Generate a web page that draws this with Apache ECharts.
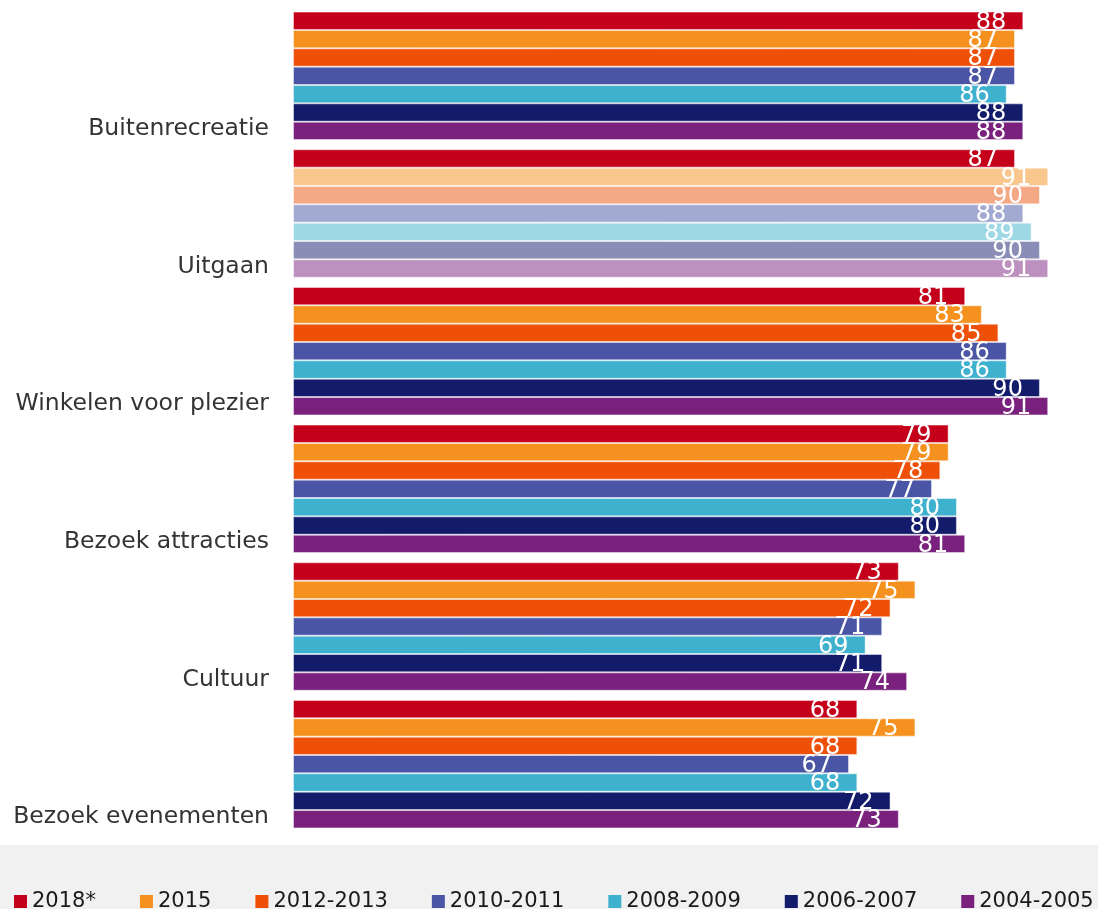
<!DOCTYPE html>
<html>
<head>
<meta charset="utf-8">
<script src="https://cdn.jsdelivr.net/npm/echarts@6/dist/echarts.min.js"></script>
<style>html,body{margin:0;padding:0;background:#fff}#c{width:1098px;height:909px}</style>
</head>
<body>
<div id="c"></div>
<script>
const categories = ['Buitenrecreatie', 'Uitgaan', 'Winkelen voor plezier', 'Bezoek attracties', 'Cultuur', 'Bezoek evenementen'];
const seriesNames = ['2018*', '2015', '2012-2013', '2010-2011', '2008-2009', '2006-2007', '2004-2005'];
const v2018 = [88, 87, 81, 79, 73, 68];
const v2015 = [87, 91, 83, 79, 75, 75];
const v2012 = [87, 90, 85, 78, 72, 68];
const v2010 = [87, 88, 86, 77, 71, 67];
const v2008 = [86, 89, 86, 80, 69, 68];
const v2006 = [88, 90, 90, 80, 71, 72];
const v2004 = [88, 91, 91, 81, 74, 73];
const seriesValues = [v2018, v2015, v2012, v2010, v2008, v2006, v2004];

const colors = ['#c4001a', '#f5921f', '#ef5008', '#4a55a5', '#3db1cd', '#131b6b', '#79217d'];
const fadedColors = ['#c4001a', '#f9c78e', '#f5a885', '#a3aad2', '#9ed8e5', '#8a8db5', '#bc90bf'];
const fadedIndex = 1;

const FONT = 'DejaVu Sans';

const series = seriesNames.map((name, si) => ({
  name: name,
  type: 'bar',
  barGap: '0%',
  barCategoryGap: '6.7%',
  itemStyle: { color: colors[si], borderColor: 'rgba(255,255,255,0.45)', borderWidth: 1 },
  label: {
    show: true,
    position: 'insideRight',
    distance: 17,
    offset: [0, 1.5],
    color: '#fff',
    fontFamily: FONT,
    fontSize: 24
  },
  emphasis: { disabled: true },
  data: seriesValues[si].map((v, ci) => ci === fadedIndex
    ? { value: v, itemStyle: { color: fadedColors[si] } }
    : v)
}));

const chart = echarts.init(document.getElementById('c'), null, { renderer: 'canvas' });
chart.setOption({
  animation: false,
  backgroundColor: '#fff',
  textStyle: { fontFamily: FONT },
  graphic: [{
    type: 'rect',
    shape: { x: 0, y: 845, width: 1098, height: 64 },
    style: { fill: '#f1f1f1' },
    z: -10
  }],
  legend: {
    data: seriesNames,
    left: 14,
    top: 891,
    width: 1200,
    padding: 0,
    itemGap: 44,
    itemWidth: 13,
    itemHeight: 13,
    icon: 'rect',
    itemStyle: { borderWidth: 0 },
    textStyle: { fontFamily: FONT, fontSize: 21, color: '#1a1a1a' }
  },
  grid: { left: 293, top: 7, right: 0, height: 826, containLabel: false },
  xAxis: {
    type: 'value',
    min: 0,
    max: 97,
    show: false
  },
  yAxis: {
    type: 'category',
    data: categories,
    inverse: true,
    axisLine: { show: false },
    axisTick: { show: false },
    axisLabel: {
      margin: 24,
      verticalAlign: 'middle',
      formatter: function (v) { return '{l|' + v + '}'; },
      rich: {
        l: {
          color: '#333',
          fontFamily: FONT,
          fontSize: 23.5,
          padding: [106, 0, 0, 0]
        }
      }
    }
  },
  series: series
});
</script>
</body>
</html>
